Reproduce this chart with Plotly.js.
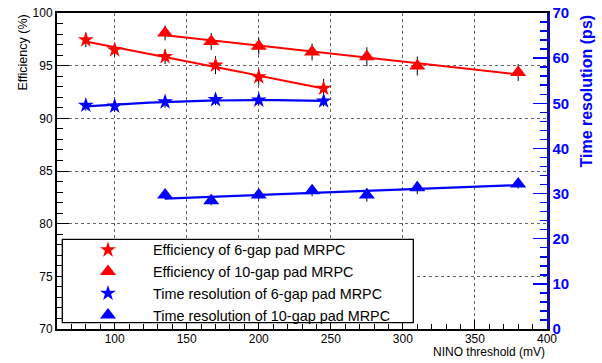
<!DOCTYPE html>
<html><head><meta charset="utf-8">
<script src="https://cdn.plot.ly/plotly-3.0.1.min.js"></script>
<style>html,body{margin:0;padding:0;background:#fff}</style>
</head><body><div id="chart" style="width:602px;height:363px"></div>
<script>
// ---- data ----
const thresh6 = [80, 100, 135, 170, 200, 245];
const thresh10 = [135, 167, 200, 237, 275, 310, 380];
const eff6 = [97.45, 96.5, 95.85, 95.05, 93.93, 92.85];
const eff6Err = [0.7, 0.6, 0.7, 0.85, 0.75, 0.9];
const eff10 = [98.1, 97.3, 96.85, 96.3, 95.85, 94.97, 94.35];
const eff10Err = [0.7, 0.8, 0.8, 0.8, 0.9, 0.9, 0.8];
const time6 = [49.55, 49.35, 50.3, 50.8, 50.7, 50.5];
const time6Err = [1.2, 1.2, 1.3, 1.2, 1.2, 1.2];
const time10 = [29.7, 28.4, 29.7, 30.6, 29.7, 31.3, 32.1];
const time10Err = [1.0, 1.0, 1.0, 1.2, 1.5, 1.4, 1.0];
const names = ["Efficiency of 6-gap pad MRPC", "Efficiency of 10-gap pad MRPC",
  "Time resolution of 6-gap pad MRPC", "Time resolution of 10-gap pad MRPC"];
const xTitle = "NINO threshold (mV)";
const yTitle = "Efficiency (%)";
const y2Title = "Time resolution (ps)";

// ---- polynomial least squares fit ----
function polyfit(xs, ys, deg) {
  const n = deg + 1;
  const A = Array.from({length: n}, () => new Array(n + 1).fill(0));
  for (let k = 0; k < xs.length; k++) {
    for (let i = 0; i < n; i++) {
      for (let j = 0; j < n; j++) A[i][j] += Math.pow(xs[k], i + j);
      A[i][n] += ys[k] * Math.pow(xs[k], i);
    }
  }
  for (let i = 0; i < n; i++) {
    let p = i;
    for (let r = i + 1; r < n; r++) if (Math.abs(A[r][i]) > Math.abs(A[p][i])) p = r;
    [A[i], A[p]] = [A[p], A[i]];
    for (let r = 0; r < n; r++) {
      if (r === i) continue;
      const f = A[r][i] / A[i][i];
      for (let c = i; c <= n; c++) A[r][c] -= f * A[i][c];
    }
  }
  return A.map((row, i) => row[n] / row[i]);
}
function fitCurve(xs, ys, deg) {
  const c = polyfit(xs, ys, deg);
  const lo = Math.min(...xs), hi = Math.max(...xs);
  const N = 60, fx = [], fy = [];
  for (let i = 0; i <= N; i++) {
    const x = lo + (hi - lo) * i / N;
    fx.push(x);
    fy.push(c.reduce((s, ci, k) => s + ci * Math.pow(x, k), 0));
  }
  return {x: fx, y: fy};
}

const RED = '#ff0000', BLUE = '#0000ff';
const FONT = 'Liberation Sans, Arial, Helvetica, sans-serif';
const f6 = fitCurve(thresh6, eff6, 1);
const f10 = fitCurve(thresh10, eff10, 1);
const t6 = fitCurve(thresh6, time6, 2);
const t10 = fitCurve(thresh10, time10, 1);

function line(f, color, yaxis, w) {
  return {x: f.x, y: f.y, yaxis: yaxis, mode: 'lines', line: {color: color, width: w},
    showlegend: false, hoverinfo: 'skip'};
}
function pts(x, y, err, name, color, symbol, size, yaxis) {
  return {x: x, y: y, yaxis: yaxis, name: name, mode: 'markers',
    marker: {color: color, symbol: symbol, size: size},
    error_y: {type: 'data', array: err, visible: true, color: '#000', thickness: 1, width: 0}};
}

const data = [
  line(f6, RED, 'y', 2), line(f10, RED, 'y', 2),
  line(t6, BLUE, 'y2', 2.2), line(t10, BLUE, 'y2', 2.2),
  pts(thresh6, eff6, eff6Err, names[0], RED, 'star', 12, 'y'),
  pts(thresh10, eff10, eff10Err, names[1], RED, 'triangle-up', 14, 'y'),
  pts(thresh6, time6, time6Err, names[2], BLUE, 'star', 12, 'y2'),
  pts(thresh10, time10, time10Err, names[3], BLUE, 'triangle-up', 14, 'y2')
];

const L = 57, R = 55, T = 13, B = 34;
const W = 602 - L - R, H = 363 - T - B;
const px = v => (v - L) / W;
const py = v => (363 - B - v) / H;

const layout = {
  width: 602, height: 363,
  margin: {l: L, r: R, t: T, b: B, pad: 0},
  paper_bgcolor: '#fff', plot_bgcolor: '#fff',
  font: {family: FONT, size: 12, color: '#000'},
  showlegend: true,
  legend: {x: px(63), y: py(234), xanchor: 'left', yanchor: 'top',
    bgcolor: 'rgba(0,0,0,0)', borderwidth: 0, itemwidth: 80,
    font: {family: FONT, size: 14.4, color: '#000'}, traceorder: 'normal'},
  xaxis: {range: [60, 400], showline: true, linecolor: '#000', linewidth: 2, mirror: true,
    ticks: 'inside', ticklen: 9, tickwidth: 1, tickcolor: '#000', dtick: 50, tick0: 0,
    ticklabelstandoff: -2,
    minor: {dtick: 10, ticks: 'inside', ticklen: 5, tickcolor: '#000', showgrid: false},
    showgrid: true, gridcolor: '#666', griddash: 'dot', gridwidth: 1, zeroline: false,
    tickfont: {family: FONT, size: 12, color: '#000'}},
  yaxis: {range: [70, 100], showline: true, linecolor: '#000', linewidth: 2,
    ticks: 'inside', ticklen: 12, tickwidth: 1, tickcolor: '#000', dtick: 5, tick0: 0,
    minor: {dtick: 1, ticks: 'inside', ticklen: 6, tickcolor: '#000', showgrid: false},
    showgrid: true, gridcolor: '#666', griddash: 'dot', gridwidth: 1, zeroline: false,
    tickfont: {family: FONT, size: 12, color: '#000'}},
  yaxis2: {range: [0, 70], overlaying: 'y', side: 'right', showline: true,
    linecolor: '#10109a', linewidth: 2.5,
    ticks: 'inside', ticklen: 14, tickwidth: 1.5, tickcolor: BLUE, dtick: 10, tick0: 0,
    minor: {dtick: 2, ticks: 'inside', ticklen: 7, tickcolor: BLUE, tickwidth: 1.5, showgrid: false},
    showgrid: false, zeroline: false,
    tickfont: {family: FONT, size: 15, color: BLUE, weight: 'bold'}},
  shapes: [{type: 'rect', xref: 'paper', yref: 'paper', layer: 'above',
    x0: px(62.3), x1: px(413.3), y0: py(322.7), y1: py(239.3),
    line: {color: '#000', width: 1.3}, fillcolor: '#fff'}],
  annotations: [
    {text: xTitle, xref: 'paper', yref: 'paper', x: 1, y: py(352), xanchor: 'right', yanchor: 'middle',
      showarrow: false, font: {family: FONT, size: 12, color: '#000'}},
    {text: yTitle, xref: 'paper', yref: 'paper', x: px(22.5), y: py(13), xanchor: 'center', yanchor: 'top',
      textangle: -90, showarrow: false, font: {family: FONT, size: 12.5, color: '#000'}},
    {text: y2Title, xref: 'paper', yref: 'paper', x: px(586), y: py(13), xanchor: 'center', yanchor: 'top',
      textangle: -90, showarrow: false, font: {family: FONT, size: 16, color: BLUE, weight: 'bold'}}
  ]
};

Plotly.newPlot('chart', data, layout, {displayModeBar: false, staticPlot: true});
</script>
</body></html>
